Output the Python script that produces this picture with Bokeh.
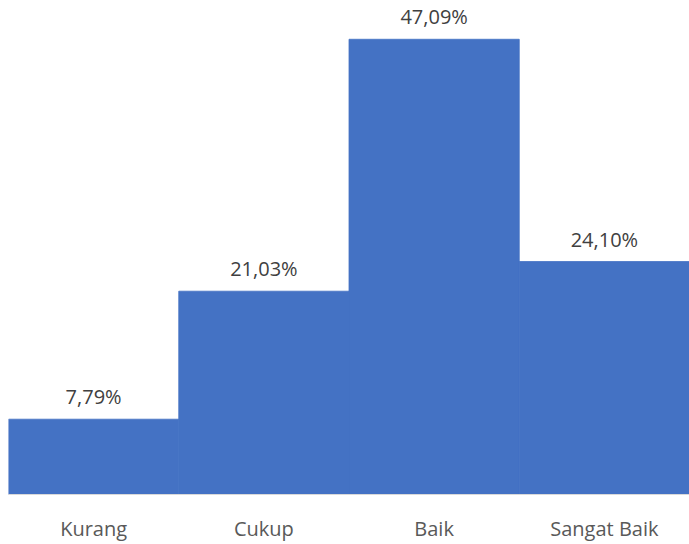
from bokeh.plotting import figure
from bokeh.models import ColumnDataSource, Range1d
from bokeh.core.properties import value
from bokeh.embed import file_html
from bokeh.resources import INLINE

categories = ["Kurang", "Cukup", "Baik", "Sangat Baik"]
percent = [7.79, 21.03, 47.09, 24.10]
labels = ["7,79%", "21,03%", "47,09%", "24,10%"]

src = ColumnDataSource(dict(cat=categories, val=percent, lab=labels))

p = figure(x_range=categories, y_range=Range1d(0, 51.1), width=689, height=544,
           output_backend="svg", toolbar_location=None,
           min_border_left=8, min_border_right=0, min_border_top=0, min_border_bottom=49)
p.vbar(x="cat", top="val", width=1.0, source=src, fill_color="#4472C4",
       line_color="#4472C4", line_width=0.8)
p.text(x="cat", y="val", text="lab", source=src, text_align="center", text_baseline="bottom",
       y_offset=-9, text_font=value("Open Sans"), text_font_size="20px", text_color="#404040")

p.yaxis.visible = False
p.xgrid.visible = False
p.ygrid.visible = False
p.outline_line_color = None
p.xaxis.axis_line_color = "#D9D9D9"
p.xaxis.axis_line_width = 1
p.xaxis.major_tick_line_color = None
p.xaxis.minor_tick_line_color = None
p.xaxis.major_tick_out = 0
p.xaxis.major_tick_in = 0
p.xaxis.major_label_standoff = 20
p.xaxis.major_label_text_font = "Open Sans"
p.xaxis.major_label_text_font_size = "20px"
p.xaxis.major_label_text_color = "#595959"
p.x_range.range_padding = 0

open("out.html", "w").write(file_html(p, INLINE))
